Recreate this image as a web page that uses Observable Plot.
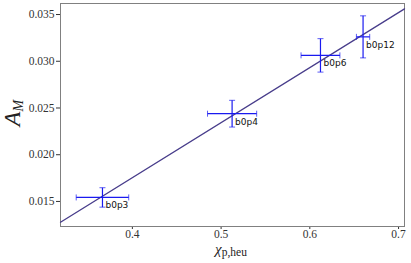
<!DOCTYPE html>
<html>
<head>
<meta charset="utf-8">
<script src="https://cdn.jsdelivr.net/npm/d3@7"></script>
<script src="https://cdn.jsdelivr.net/npm/@observablehq/plot@0.6"></script>
<style>
  html, body { margin: 0; padding: 0; background: #fff; }
</style>
</head>
<body>
<div id="chart"></div>
<script>
const labels = ["b0p3", "b0p4", "b0p6", "b0p12"];
const xVals = [0.3663, 0.5124, 0.6120, 0.6600];
const yVals = [0.01543, 0.02439, 0.03063, 0.03261];
const xErr = [0.0296, 0.0277, 0.0219, 0.0075];
const yErr = [0.00104, 0.00143, 0.00179, 0.00225];
const fitX = [0.319, 0.7067];
const fitY = [0.01278, 0.03561];
const xTicks = [0.4, 0.5, 0.6, 0.7];
const yTicks = [0.015, 0.020, 0.025, 0.030, 0.035];

const pts = labels.map((l, i) => ({label: l, x: xVals[i], y: yVals[i], xe: xErr[i], ye: yErr[i]}));
const fit = fitX.map((x, i) => ({x, y: fitY[i]}));

const capV = {draw(ctx) { ctx.moveTo(0, -3); ctx.lineTo(0, 3); }};
const capH = {draw(ctx) { ctx.moveTo(-3, 0); ctx.lineTo(3, 0); }};
const ebColor = "#1a1af0";
const SERIF = "'Liberation Serif', 'Times New Roman', serif";

const plot = Plot.plot({
  width: 411,
  height: 263,
  marginLeft: 60,
  marginRight: 7,
  marginTop: 3,
  marginBottom: 37,
  style: {fontSize: "11.5px", color: "#333", background: "#fff"},
  x: {domain: [0.319, 0.7067], ticks: xTicks, tickFormat: d3.format(".1f"), label: null, tickSize: 3, tickPadding: 0},
  y: {domain: [0.01232, 0.03618], ticks: yTicks, tickFormat: d3.format(".3f"), label: null, tickSize: 4, tickPadding: 2},
  marks: [
    Plot.frame({stroke: "#808080", strokeWidth: 1}),
    Plot.line(fit, {x: "x", y: "y", stroke: "#483d8b", strokeWidth: 1.3}),
    Plot.link(pts, {x1: d => d.x - d.xe, x2: d => d.x + d.xe, y1: "y", y2: "y", stroke: ebColor, strokeWidth: 1.2}),
    Plot.link(pts, {x1: "x", x2: "x", y1: d => d.y - d.ye, y2: d => d.y + d.ye, stroke: ebColor, strokeWidth: 1.2}),
    Plot.dot(pts, {x: d => d.x - d.xe, y: "y", symbol: capV, stroke: ebColor, strokeOpacity: 0.7, fill: "none", strokeWidth: 1}),
    Plot.dot(pts, {x: d => d.x + d.xe, y: "y", symbol: capV, stroke: ebColor, strokeOpacity: 0.7, fill: "none", strokeWidth: 1}),
    Plot.dot(pts, {x: "x", y: d => d.y - d.ye, symbol: capH, stroke: ebColor, strokeOpacity: 0.7, fill: "none", strokeWidth: 1}),
    Plot.dot(pts, {x: "x", y: d => d.y + d.ye, symbol: capH, stroke: ebColor, strokeOpacity: 0.7, fill: "none", strokeWidth: 1}),
    Plot.text(pts, {x: "x", y: "y", text: "label", textAnchor: "start", dx: 3, dy: 8, fontSize: 9, fill: "#111", fontFamily: "'DejaVu Sans', sans-serif"})
  ]
});

const svg = d3.select(plot);
// serif tick labels
svg.selectAll('g[aria-label$="tick label"] text')
  .style("font-family", SERIF)
  .style("font-size", "11.5px");

// y-axis label: A_M
const yl = svg.append("text")
  .attr("transform", "translate(20,113) rotate(-90)")
  .attr("text-anchor", "middle")
  .style("font-family", SERIF)
  .style("font-style", "italic")
  .attr("fill", "#222");
yl.append("tspan").style("font-size", "24px").text("A");
yl.append("tspan").style("font-size", "14px").attr("dy", 3).text("M");

// x-axis label: χ_p,heu
const xl = svg.append("text")
  .attr("x", 231)
  .attr("y", 254)
  .attr("text-anchor", "middle")
  .style("font-family", SERIF)
  .attr("fill", "#222");
xl.append("tspan").style("font-size", "15px").style("font-style", "italic").text("χ");
xl.append("tspan").style("font-size", "11.5px").attr("dy", 1.5).text("p,heu");

document.getElementById("chart").appendChild(plot);
</script>
</body>
</html>
